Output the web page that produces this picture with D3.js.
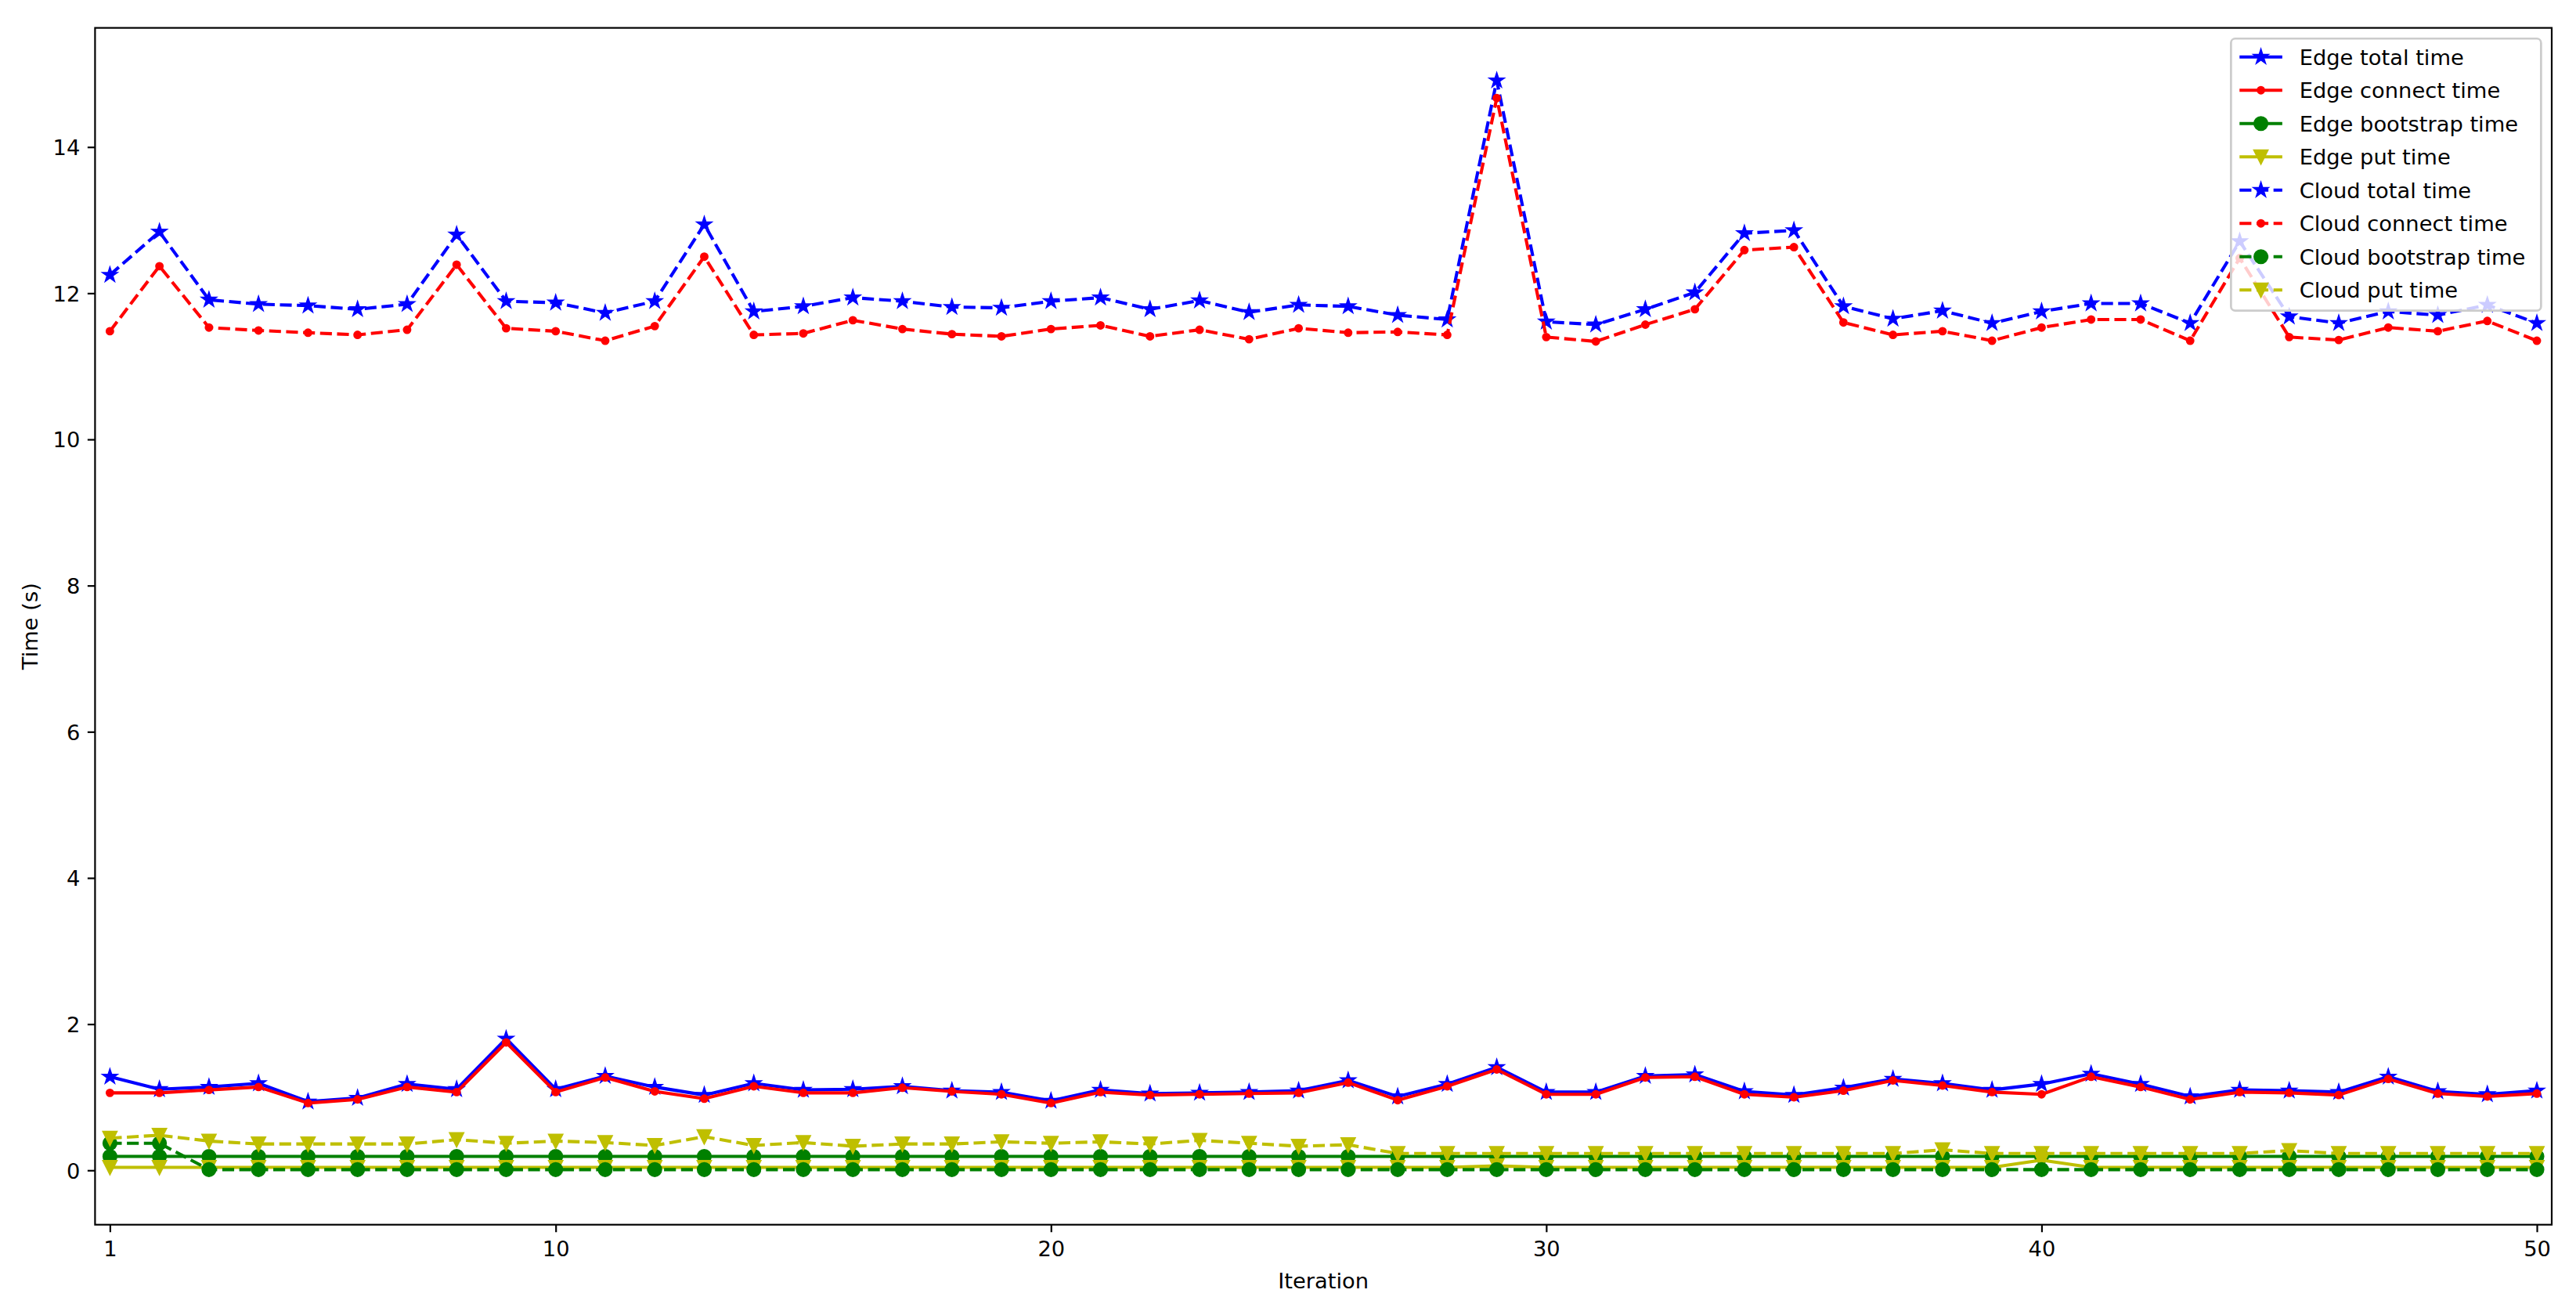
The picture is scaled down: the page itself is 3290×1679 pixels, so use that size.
<!DOCTYPE html>
<html>
<head>
<meta charset="utf-8">
<script src="https://d3js.org/d3.v7.min.js"></script>
<style>
  html, body { margin: 0; padding: 0; background: #ffffff; }
  svg { display: block; }
  text { font-family: "DejaVu Sans", sans-serif; }
</style>
</head>
<body>
<svg id="chart" width="3290" height="1679"></svg>
<script>
// ---------------- data ----------------
const iterations = [1,2,3,4,5,6,7,8,9,10,11,12,13,14,15,16,17,18,19,20,21,22,23,24,25,
                    26,27,28,29,30,31,32,33,34,35,36,37,38,39,40,41,42,43,44,45,46,47,48,49,50];

const edgeTotal = [1.28,1.11,1.14,1.19,0.94,0.99,1.18,1.11,1.80,1.11,1.29,1.14,1.03,1.19,1.10,1.11,1.15,1.09,1.07,0.95,
                   1.10,1.05,1.06,1.07,1.09,1.23,1.01,1.18,1.41,1.07,1.07,1.29,1.31,1.08,1.03,1.13,1.25,1.19,1.10,1.18,
                   1.32,1.18,1.01,1.10,1.09,1.07,1.28,1.08,1.04,1.09];
const edgeConnect = [1.06,1.06,1.10,1.14,0.92,0.97,1.14,1.07,1.75,1.07,1.27,1.08,0.98,1.15,1.06,1.06,1.13,1.08,1.04,0.92,
                     1.07,1.03,1.04,1.05,1.06,1.20,0.96,1.15,1.38,1.04,1.04,1.27,1.28,1.04,1.00,1.09,1.23,1.16,1.07,1.04,
                     1.28,1.14,0.97,1.07,1.06,1.03,1.25,1.05,1.01,1.05];
const edgeBootstrap = [0.19,0.19,0.19,0.19,0.19,0.19,0.19,0.19,0.19,0.19,0.19,0.19,0.19,0.19,0.19,0.19,0.19,0.19,0.19,0.19,
                       0.19,0.19,0.19,0.19,0.19,0.19,0.19,0.19,0.19,0.19,0.19,0.19,0.19,0.19,0.19,0.19,0.19,0.19,0.19,0.19,
                       0.19,0.19,0.19,0.19,0.19,0.19,0.19,0.19,0.19,0.19];
const edgePut = [0.04,0.04,0.04,0.04,0.04,0.04,0.04,0.04,0.04,0.04,0.04,0.04,0.04,0.04,0.04,0.04,0.04,0.04,0.04,0.04,
                 0.04,0.04,0.04,0.04,0.04,0.04,0.04,0.04,0.06,0.04,0.04,0.04,0.04,0.04,0.04,0.04,0.04,0.04,0.04,0.14,
                 0.04,0.04,0.04,0.04,0.04,0.04,0.04,0.04,0.04,0.04];
const cloudTotal = [12.25,12.84,11.91,11.85,11.83,11.78,11.85,12.80,11.89,11.87,11.73,11.89,12.94,11.75,11.82,11.94,11.89,11.81,11.80,11.89,
                    11.94,11.78,11.90,11.74,11.84,11.82,11.70,11.64,14.91,11.61,11.57,11.78,12.01,12.82,12.86,11.82,11.65,11.76,11.59,11.75,
                    11.86,11.86,11.59,12.71,11.68,11.59,11.75,11.70,11.84,11.59];
const cloudConnect = [11.48,12.37,11.53,11.49,11.46,11.43,11.50,12.39,11.52,11.48,11.35,11.55,12.50,11.43,11.45,11.63,11.51,11.44,11.41,11.51,
                      11.56,11.41,11.50,11.37,11.52,11.46,11.47,11.43,14.67,11.40,11.34,11.57,11.78,12.59,12.63,11.60,11.43,11.48,11.35,11.53,
                      11.64,11.64,11.35,12.48,11.40,11.36,11.53,11.48,11.62,11.35];
const cloudBootstrap = [0.37,0.37,0.01,0.01,0.01,0.01,0.01,0.01,0.01,0.01,0.01,0.01,0.01,0.01,0.01,0.01,0.01,0.01,0.01,0.01,
                        0.01,0.01,0.01,0.01,0.01,0.01,0.01,0.01,0.01,0.01,0.01,0.01,0.01,0.01,0.01,0.01,0.01,0.01,0.01,0.01,
                        0.01,0.01,0.01,0.01,0.01,0.01,0.01,0.01,0.01,0.01];
const cloudPut = [0.44,0.48,0.40,0.36,0.36,0.36,0.36,0.42,0.37,0.40,0.38,0.34,0.46,0.34,0.38,0.33,0.36,0.36,0.39,0.37,
                  0.39,0.36,0.41,0.37,0.33,0.35,0.23,0.23,0.23,0.23,0.23,0.23,0.23,0.23,0.23,0.23,0.23,0.28,0.23,0.23,
                  0.23,0.23,0.23,0.23,0.27,0.23,0.23,0.23,0.23,0.23];

const seriesNames = ["Edge total time","Edge connect time","Edge bootstrap time","Edge put time",
                     "Cloud total time","Cloud connect time","Cloud bootstrap time","Cloud put time"];
const seriesValues = [edgeTotal, edgeConnect, edgeBootstrap, edgePut, cloudTotal, cloudConnect, cloudBootstrap, cloudPut];
const seriesColors = ["#0000ff","#ff0000","#008000","#bfbf00","#0000ff","#ff0000","#008000","#bfbf00"];
const seriesMarkers = ["star","point","circle","tri","star","point","circle","tri"];
const seriesDashed = [false,false,false,false,true,true,true,true];

const xTicks = [1,10,20,30,40,50];
const yTicks = [0,2,4,6,8,10,12,14];
const xLabel = "Iteration";
const yLabel = "Time (s)";

// ---------------- layout ----------------
const PT = 2.73;                 // px per point
const FS = 27.3;                 // font size px
const L = 121.4, R = 3259, T = 35.6, B = 1563.7;
const svg = d3.select("#chart");

const x = d3.scaleLinear().domain([0.7, 50.3]).range([L, R]);
const y = d3.scaleLinear().domain([-0.744, 15.63]).range([B, T]);

const LW = 1.5 * PT, MS = 6 * PT, MEW = 1 * PT;
const dash = `${(3.7*1.5*PT).toFixed(2)},${(1.6*1.5*PT).toFixed(2)}`;

function markerPath(type) {
  const r = MS / 2;
  if (type === "star") {
    const pts = [];
    for (let i = 0; i < 10; i++) {
      const a = -Math.PI / 2 + i * Math.PI / 5;
      const rr = i % 2 === 0 ? r : r * 0.381966;
      pts.push([rr * Math.cos(a), rr * Math.sin(a)]);
    }
    return "M" + pts.map(p => p[0].toFixed(2) + "," + p[1].toFixed(2)).join("L") + "Z";
  }
  if (type === "tri") {
    return `M0,${r}L${-r},${-r}L${r},${-r}Z`;
  }
  const rc = type === "point" ? r * 0.5 : r;
  return `M${rc},0A${rc},${rc} 0 1,1 ${-rc},0A${rc},${rc} 0 1,1 ${rc},0Z`;
}

// ---------------- axes ----------------
const gx = svg.append("g").attr("transform", `translate(0,${B})`)
  .call(d3.axisBottom(x).tickValues(xTicks).tickFormat(d3.format("d"))
        .tickSizeInner(3.5*PT).tickSizeOuter(0).tickPadding(3.5*PT));
const gy = svg.append("g").attr("transform", `translate(${L},0)`)
  .call(d3.axisLeft(y).tickValues(yTicks).tickFormat(d3.format("d"))
        .tickSizeInner(3.5*PT).tickSizeOuter(0).tickPadding(3.5*PT));
[gx, gy].forEach(g => {
  g.select(".domain").remove();
  g.selectAll(".tick line").attr("stroke", "#000").attr("stroke-width", 0.8*PT);
  g.selectAll(".tick text").attr("fill", "#000").style("font-size", FS + "px")
    .style("font-family", "'DejaVu Sans', sans-serif");
});
gx.selectAll(".tick text").attr("dy", null).attr("y", 3.5*PT*2 + 0.76*FS);
gy.selectAll(".tick text").attr("dy", "0.36em");

svg.append("text").attr("x", (L + R) / 2).attr("y", 1645)
  .attr("text-anchor", "middle").style("font-size", FS + "px").text(xLabel);
svg.append("text").attr("transform", `translate(48,${(T + B) / 2}) rotate(-90)`)
  .attr("text-anchor", "middle").style("font-size", FS + "px").text(yLabel);

// ---------------- series ----------------
const line = d3.line().x(d => x(d[0])).y(d => y(d[1]));
const plot = svg.append("g");
seriesValues.forEach((vals, i) => {
  const pts = iterations.map((it, k) => [it, vals[k]]);
  const g = plot.append("g");
  g.append("path").attr("d", line(pts)).attr("fill", "none")
    .attr("stroke", seriesColors[i]).attr("stroke-width", LW)
    .attr("stroke-linejoin", "round")
    .attr("stroke-linecap", seriesDashed[i] ? "butt" : "square")
    .attr("stroke-dasharray", seriesDashed[i] ? dash : null);
  const mp = markerPath(seriesMarkers[i]);
  g.selectAll("path.m").data(pts).join("path").attr("class", "m")
    .attr("d", mp).attr("transform", d => `translate(${x(d[0])},${y(d[1])})`)
    .attr("fill", seriesColors[i]).attr("stroke", seriesColors[i]).attr("stroke-width", MEW);
});

// ---------------- frame ----------------
svg.append("rect").attr("x", L).attr("y", T).attr("width", R - L).attr("height", B - T)
  .attr("fill", "none").attr("stroke", "#000").attr("stroke-width", 0.8*PT);

// ---------------- legend ----------------
const leg = svg.append("g");
const rowH = 42.5, firstRow = 72.7;
const legBox = leg.append("rect");
const texts = [];
const handleLen = 2 * FS, textPad = 0.8 * FS, bpad = 0.4 * FS;
const legRight = R - 0.5 * FS, legTop = T + 0.5 * FS;
seriesNames.forEach((name, i) => {
  const t = leg.append("text").attr("y", firstRow + i * rowH).attr("dy", "0.36em")
    .style("font-size", FS + "px").text(name);
  texts.push(t);
});
const maxW = d3.max(texts, t => t.node().getComputedTextLength());
const legW = Math.max(bpad + handleLen + textPad + maxW + bpad, 396);
const legLeft = legRight - legW;
const legBottom = firstRow + 7 * rowH + 26.4;
legBox.attr("x", legLeft).attr("y", legTop).attr("width", legW).attr("height", legBottom - legTop)
  .attr("rx", 0.2 * FS).attr("ry", 0.2 * FS)
  .attr("fill", "#ffffff").attr("fill-opacity", 0.8)
  .attr("stroke", "#cccccc").attr("stroke-width", 1 * PT);
texts.forEach(t => t.attr("x", legLeft + bpad + handleLen + textPad));
seriesNames.forEach((name, i) => {
  const cy = firstRow + i * rowH;
  const x0 = legLeft + bpad, x1 = x0 + handleLen;
  leg.append("line").attr("x1", x0).attr("x2", x1).attr("y1", cy).attr("y2", cy)
    .attr("stroke", seriesColors[i]).attr("stroke-width", LW)
    .attr("stroke-dasharray", seriesDashed[i] ? dash : null);
  leg.append("path").attr("d", markerPath(seriesMarkers[i]))
    .attr("transform", `translate(${(x0 + x1) / 2},${cy})`)
    .attr("fill", seriesColors[i]).attr("stroke", seriesColors[i]).attr("stroke-width", MEW);
});
</script>
</body>
</html>
